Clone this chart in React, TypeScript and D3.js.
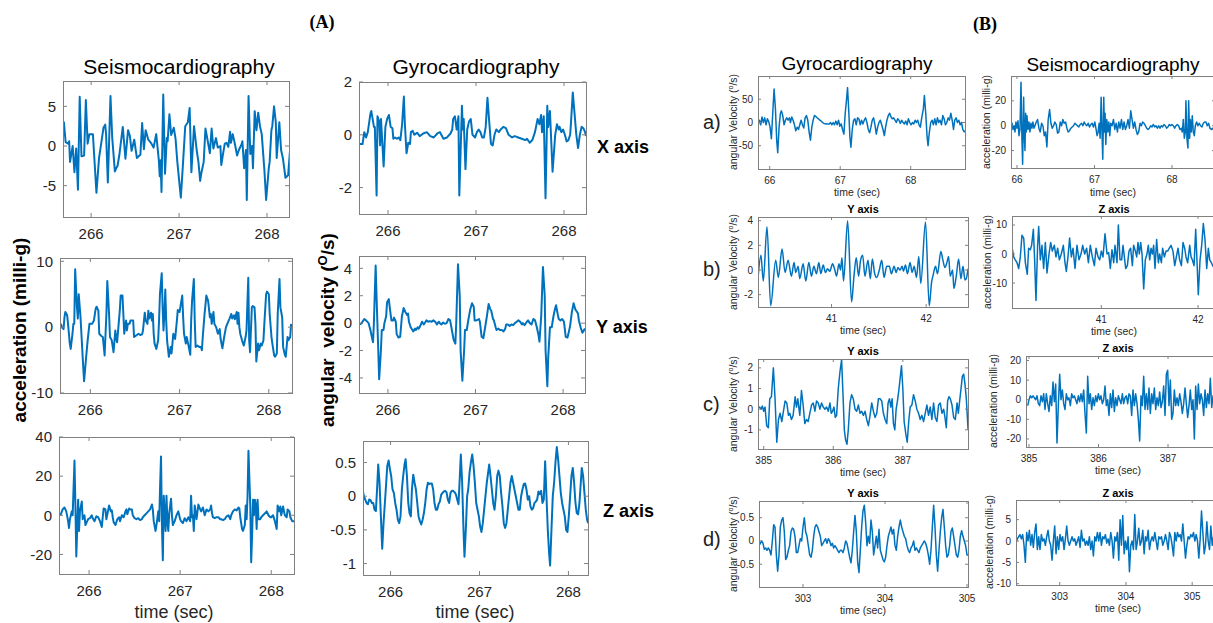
import React from 'react';
import * as d3 from 'd3';

type P = [number, number];

// ---------------- Panel (A) data ----------------
const ticksA = [266, 267, 268];

const scgX_A: P[] = [[265.67,1.5],[265.69,3],[265.71,0.5],[265.74,0.3],[265.75,0.6],[265.76,-2],[265.79,0],[265.81,-3.3],[265.83,-0.3],[265.85,-5.5],[265.87,6.2],[265.89,-1.3],[265.92,-1.2],[265.94,5.8],[265.96,0.3],[265.98,1.5],[266.02,1.5],[266.06,-5.9],[266.09,-1.5],[266.11,0],[266.14,2.3],[266.16,2.7],[266.17,1.5],[266.19,-4.6],[266.22,6.3],[266.24,1.0],[266.27,-3.2],[266.29,-2.7],[266.30,-2.5],[266.32,-1.2],[266.36,2.4],[266.39,-1.6],[266.42,2],[266.44,1.3],[266.46,-0.6],[266.49,0.8],[266.52,-1.5],[266.54,-1.3],[266.56,-1.1],[266.58,2.9],[266.60,-0.4],[266.62,2.0],[266.65,0.8],[266.68,0.4],[266.71,-0.2],[266.74,1.5],[266.77,-1.8],[266.78,-3.8],[266.79,-1.8],[266.80,-5.8],[266.82,6.5],[266.84,-3.5],[266.86,1.0],[266.87,0.6],[266.89,4.0],[266.91,1.4],[266.94,2.3],[266.96,0.9],[266.98,-2],[267.02,-6.5],[267.04,-3],[267.07,2.5],[267.10,3],[267.12,4.8],[267.14,-3.3],[267.17,2.5],[267.20,-0.5],[267.22,-2],[267.24,-4.4],[267.25,-3.6],[267.28,-2],[267.30,2.2],[267.32,1],[267.35,-0.9],[267.37,2.2],[267.39,-0.3],[267.42,1.0],[267.44,-0.2],[267.47,0],[267.48,-2.4],[267.50,-1],[267.52,0.3],[267.54,0.4],[267.56,-0.1],[267.58,1.8],[267.59,0.4],[267.61,1.5],[267.63,0.5],[267.66,-1.2],[267.68,-0.5],[267.71,0.2],[267.72,0.6],[267.74,-2.8],[267.76,-0.5],[267.77,-6.8],[267.79,6.3],[267.81,-1],[267.83,0],[267.84,-2.8],[267.86,4.4],[267.88,2],[267.90,4.2],[267.92,2.5],[267.94,1.5],[267.97,-3],[267.99,-6.8],[268.02,-2.8],[268.03,-2],[268.05,2],[268.06,2.5],[268.08,5],[268.10,3],[268.11,-1.5],[268.14,3],[268.16,-0.5],[268.18,-1.5],[268.21,-4],[268.24,-3.7],[268.26,-0.8]];

const gyroX_A: P[] = [[265.675,-0.35],[265.71,-0.35],[265.73,0.1],[265.75,-0.1],[265.77,0.1],[265.80,0.8],[265.81,0.9],[265.84,0.3],[265.85,0.3],[265.87,-2.3],[265.88,0.7],[265.90,0.5],[265.91,-0.4],[265.92,0.6],[265.95,-1.2],[265.97,0.3],[265.99,0.6],[266.01,0.75],[266.03,0.3],[266.05,0.25],[266.06,-0.15],[266.08,-0.1],[266.10,-0.15],[266.12,-0.1],[266.14,-0.2],[266.16,0.4],[266.18,1.45],[266.19,0.5],[266.21,-0.7],[266.23,-0.3],[266.25,-0.35],[266.26,0.1],[266.28,0.15],[266.30,0],[266.33,0.08],[266.36,-0.05],[266.40,0.05],[266.44,0.1],[266.48,-0.05],[266.52,-0.1],[266.56,0.05],[266.59,0.1],[266.63,-0.15],[266.67,-0.1],[266.71,0.05],[266.73,0.2],[266.74,0.6],[266.76,0.7],[266.78,0.2],[266.80,0.7],[266.81,-2.3],[266.84,1.1],[266.85,0.2],[266.86,0.6],[266.88,-1.3],[266.90,0.2],[266.92,0.5],[266.94,0.6],[266.96,0],[266.99,-0.1],[267.01,0.1],[267.03,0.2],[267.05,0.1],[267.07,-0.1],[267.09,-0.1],[267.11,0.3],[267.13,1.4],[267.15,0.5],[267.17,-0.35],[267.19,-0.4],[267.21,0],[267.23,0.2],[267.26,0.1],[267.28,0.2],[267.31,0.3],[267.34,0.25],[267.37,0],[267.41,-0.1],[267.44,-0.05],[267.48,-0.1],[267.52,-0.15],[267.56,-0.2],[267.58,-0.15],[267.61,-0.3],[267.64,-0.2],[267.67,0.1],[267.70,0.6],[267.72,0.4],[267.74,0.75],[267.75,0.1],[267.77,0.7],[267.79,-2.4],[267.81,1.1],[267.82,0.3],[267.84,0.9],[267.87,-1.4],[267.90,0],[267.92,0.4],[267.94,0.2],[267.95,0.3],[267.97,0.1],[267.99,0.2],[268.01,0],[268.03,-0.25],[268.05,-0.2],[268.07,0],[268.08,0.5],[268.10,1.6],[268.12,0.8],[268.14,0],[268.16,-0.5],[268.18,0],[268.20,0.3],[268.22,0.25],[268.24,0.1],[268.25,-0.05]];

const scgY_A: P[] = [[265.67,0.5],[265.68,0],[265.70,-0.3],[265.71,1.5],[265.72,2.3],[265.74,1.8],[265.75,0.5],[265.77,-2.5],[265.78,-3.3],[265.80,-1],[265.81,0.5],[265.82,0.5],[265.83,8.8],[265.85,3],[265.86,1.3],[265.87,5],[265.89,1.5],[265.90,-1],[265.92,-6],[265.93,-8.2],[265.95,-5],[265.97,-2],[265.99,0.5],[266.02,0.5],[266.04,1],[266.06,2.8],[266.07,3.1],[266.09,2.5],[266.10,-1],[266.12,-1.3],[266.14,-1.5],[266.16,-4.3],[266.18,2],[266.19,7],[266.21,2],[266.22,-1.5],[266.24,-2],[266.26,-3.8],[266.28,-0.5],[266.29,-1.8],[266.30,-2.3],[266.33,2.5],[266.34,4.8],[266.36,4.8],[266.37,2],[266.38,-1],[266.40,1],[266.41,-0.5],[266.42,0.5],[266.44,0.5],[266.45,1],[266.48,1],[266.49,-1.5],[266.51,-1.3],[266.54,-1],[266.56,-1.2],[266.58,-1.1],[266.59,-0.5],[266.61,2.2],[266.62,1],[266.64,0.5],[266.65,2.5],[266.66,1.3],[266.68,2.2],[266.69,1],[266.70,2],[266.71,-1],[266.72,-2.5],[266.74,-3.3],[266.76,-2],[266.77,1],[266.78,5],[266.80,8.2],[266.81,3],[266.82,-0.5],[266.83,2],[266.84,5.7],[266.85,1],[266.86,-2],[266.88,-4.5],[266.90,-3],[266.91,-4],[266.92,-2.5],[266.93,-1],[266.95,-1.8],[266.97,1],[266.98,2.6],[267.00,2.3],[267.03,4.8],[267.04,1.5],[267.05,-1],[267.07,-2.5],[267.08,-1.5],[267.10,-2.8],[267.12,-4.2],[267.13,1],[267.14,4],[267.16,7.3],[267.17,1],[267.18,-3],[267.20,-2.8],[267.22,-3],[267.24,-3],[267.25,-3.5],[267.26,-1.5],[267.28,2],[267.30,4.8],[267.32,4],[267.34,1.5],[267.35,2],[267.36,0.5],[267.38,2.3],[267.39,0.5],[267.41,0],[267.42,-0.5],[267.43,-1],[267.45,-0.3],[267.46,-1.8],[267.48,-3.2],[267.50,-1.5],[267.52,0],[267.55,1],[267.56,1.3],[267.58,2],[267.59,1.3],[267.61,1.8],[267.62,1.2],[267.64,2.3],[267.65,0.5],[267.66,2.2],[267.67,0],[267.68,-1],[267.70,-2],[267.72,-2.8],[267.74,-1.5],[267.75,-0.5],[267.77,7.5],[267.78,-2],[267.79,-3.8],[267.81,3],[267.82,3.2],[267.84,3],[267.85,0.5],[267.86,-5.2],[267.88,-2.5],[267.89,-3.5],[267.91,-2.5],[267.92,-2.8],[267.94,-2],[267.95,0.5],[267.97,5],[267.98,5.4],[268.00,5],[268.01,2],[268.03,-1.5],[268.04,-2.5],[268.06,-4.3],[268.07,-4.5],[268.09,-4],[268.10,2],[268.12,7.3],[268.13,3],[268.15,1.5],[268.16,-3],[268.18,-4.2],[268.19,-4.5],[268.21,-1.5],[268.22,-2],[268.24,-1.5],[268.25,0.5]];

const gyroY_A: P[] = [[265.68,-0.1],[265.70,0],[265.73,0.3],[265.75,0.2],[265.78,0],[265.80,-0.5],[265.83,-1.4],[265.84,0],[265.86,4.2],[265.87,2],[265.89,-2],[265.90,-4.1],[265.92,-2],[265.93,-0.5],[265.95,-0.5],[265.96,0],[265.98,0.5],[265.99,1.5],[266.01,1.75],[266.02,1.2],[266.04,0.2],[266.06,0.2],[266.07,0.4],[266.09,0.1],[266.10,-0.8],[266.12,-1.05],[266.14,-1.0],[266.16,0.5],[266.18,1.1],[266.20,0.8],[266.22,0.6],[266.23,0.7],[266.24,0.1],[266.26,-0.3],[266.28,-0.5],[266.29,-0.6],[266.31,-0.4],[266.32,-0.5],[266.34,-0.3],[266.35,-0.4],[266.37,-0.2],[266.39,0.1],[266.41,-0.1],[266.43,0.1],[266.44,0.2],[266.46,0.1],[266.48,0.15],[266.50,0.1],[266.52,0.2],[266.54,0.1],[266.56,-0.1],[266.58,0.1],[266.60,-0.05],[266.61,-0.1],[266.63,0.05],[266.65,-0.05],[266.67,0],[266.69,0.3],[266.71,0.2],[266.73,-0.5],[266.75,-1.2],[266.77,-1.5],[266.78,0],[266.80,4.3],[266.82,2],[266.83,-2],[266.85,-4.2],[266.87,-2],[266.88,-0.5],[266.90,-0.5],[266.92,0.3],[266.94,1],[266.96,1.45],[266.98,1.2],[266.99,0.2],[267.01,0.2],[267.04,0.3],[267.05,0.1],[267.07,-1],[267.09,-1.1],[267.11,-0.3],[267.13,0.5],[267.15,1.4],[267.17,1],[267.18,0.9],[267.20,0.3],[267.21,0.2],[267.23,-0.3],[267.24,-0.5],[267.26,-0.4],[267.28,-0.5],[267.30,-0.5],[267.32,-0.6],[267.34,-0.4],[267.35,-0.1],[267.37,-0.1],[267.39,-0.2],[267.41,-0.1],[267.43,-0.15],[267.45,0],[267.47,0.1],[267.49,0.2],[267.51,0.1],[267.53,-0.1],[267.54,0],[267.56,-0.15],[267.58,0.05],[267.60,0.2],[267.62,0],[267.64,-0.1],[267.66,0.3],[267.68,0.2],[267.70,-0.3],[267.72,-0.9],[267.73,-1.35],[267.75,0.5],[267.77,4.1],[267.79,2],[267.80,-2],[267.82,-4.6],[267.83,-2.5],[267.85,-0.3],[267.87,-0.3],[267.89,0.5],[267.91,1.1],[267.92,1.3],[267.94,0.6],[267.95,0.3],[267.97,0.2],[267.99,0.3],[268.01,0.1],[268.03,-1],[268.05,-1.05],[268.06,-0.8],[268.08,-0.2],[268.10,0.8],[268.12,1.45],[268.14,1.0],[268.15,0.9],[268.17,0.7],[268.18,0.2],[268.20,-0.3],[268.22,-0.7],[268.23,-0.6],[268.25,-0.4]];

const scgZ_A: P[] = [[265.67,0],[265.69,0.5],[265.71,3],[265.73,4],[265.75,2],[265.77,-3],[265.78,-6.5],[265.79,-2],[265.81,2],[265.82,0],[265.84,28],[265.85,5],[265.86,-21],[265.88,8],[265.89,-8],[265.90,2],[265.92,7],[265.93,-2],[265.95,0],[265.96,-5],[265.98,-3],[265.99,-2],[266.01,-1.5],[266.03,0],[266.04,-1.5],[266.06,-3],[266.08,-0.5],[266.10,-1],[266.12,-3],[266.14,-6],[266.15,-1],[266.16,3.5],[266.18,3],[266.19,-2],[266.21,2.5],[266.22,5],[266.24,2],[266.25,2.5],[266.26,-1],[266.27,-3.5],[266.29,-5],[266.31,-2],[266.33,-1],[266.34,-3],[266.36,0],[266.38,-1],[266.40,2],[266.41,3],[266.42,0.5],[266.44,3.5],[266.45,3],[266.47,3],[266.48,0],[266.50,-1.5],[266.52,-2],[266.54,-1.5],[266.56,-2.5],[266.58,-2],[266.59,-1],[266.61,0],[266.63,1],[266.65,2],[266.67,3],[266.69,5.5],[266.70,3],[266.71,-3],[266.73,-8],[266.74,-5],[266.76,2],[266.77,-3],[266.78,15],[266.79,30],[266.80,-5],[266.81,-23],[266.82,10],[266.84,-8],[266.85,10],[266.86,-3],[266.87,-8],[266.88,1],[266.90,8.5],[266.91,0],[266.92,-5],[266.94,-3],[266.96,0],[266.98,2],[267.00,-2],[267.01,-3],[267.03,-4],[267.05,-1.5],[267.07,-3],[267.09,-1],[267.11,-3],[267.12,10],[267.13,-1],[267.14,0],[267.15,-8],[267.16,5],[267.18,-2],[267.20,5.5],[267.22,3],[267.23,2],[267.25,4],[267.27,0],[267.29,3],[267.31,2],[267.33,3],[267.34,5],[267.35,1],[267.36,-1],[267.38,-1.5],[267.40,-1],[267.42,-1],[267.44,-2],[267.45,-2],[267.47,-2.5],[267.49,-2],[267.51,-0.5],[267.53,0],[267.55,-2],[267.56,0],[267.58,2],[267.60,3],[267.62,2.5],[267.64,4],[267.65,3.5],[267.66,-1],[267.68,-7],[267.69,-8],[267.71,-5],[267.72,5],[267.73,-2],[267.74,10],[267.75,33],[267.77,5],[267.78,-24],[267.79,-10],[267.80,8],[267.81,0],[267.82,8],[267.83,5],[267.84,-7],[267.85,8],[267.86,-2],[267.88,-2],[267.89,-1],[267.91,0],[267.93,1],[267.95,2],[267.97,0],[267.99,-1],[268.00,-1],[268.02,0],[268.04,-3],[268.06,-7],[268.07,5],[268.09,2],[268.10,4.5],[268.11,0],[268.13,4.5],[268.14,2],[268.15,0],[268.17,-1],[268.18,3],[268.20,2],[268.21,-1],[268.23,-3],[268.25,-3]];

const gyroZ_A: P[] = [[265.685,0.1],[265.700,0],[265.715,-0.05],[265.730,-0.1],[265.745,-0.12],[265.760,-0.05],[265.775,-0.06],[265.790,-0.1],[265.805,-0.1],[265.820,-0.2],[265.835,-0.22],[265.850,0.15],[265.861,0.47],[265.876,0.2],[265.891,-0.3],[265.906,-0.78],[265.921,-0.4],[265.936,-0.1],[265.951,0.2],[265.963,0.45],[265.978,0.53],[265.993,0.4],[266.007,0.3],[266.022,0.1],[266.037,0.05],[266.052,-0.1],[266.067,-0.2],[266.082,-0.35],[266.097,-0.4],[266.112,-0.3],[266.127,0.1],[266.142,0.3],[266.157,0.47],[266.169,0.55],[266.184,0.3],[266.199,-0.1],[266.213,-0.25],[266.228,-0.3],[266.240,0.1],[266.255,0.32],[266.270,0.2],[266.285,0.1],[266.300,-0.1],[266.315,-0.3],[266.330,-0.37],[266.345,-0.42],[266.360,-0.35],[266.375,-0.25],[266.390,-0.1],[266.405,0.1],[266.420,0.2],[266.434,0.18],[266.449,0.19],[266.464,0.19],[266.479,0.1],[266.494,-0.1],[266.509,-0.2],[266.524,-0.2],[266.539,-0.12],[266.554,-0.08],[266.569,0.02],[266.584,0.05],[266.599,0.07],[266.614,0.08],[266.629,0.06],[266.644,-0.05],[266.659,-0.1],[266.674,0.05],[266.689,0.08],[266.704,0.08],[266.719,0.06],[266.734,0.03],[266.749,-0.05],[266.764,-0.12],[266.779,0.3],[266.790,0.62],[266.805,0.2],[266.820,-0.5],[266.831,-0.9],[266.846,-0.5],[266.861,0],[266.873,0.1],[266.888,0.35],[266.903,0.5],[266.918,0.62],[266.933,0.45],[266.948,0.2],[266.963,-0.1],[266.978,-0.2],[266.993,-0.3],[267.007,-0.45],[267.022,-0.53],[267.037,-0.4],[267.052,-0.2],[267.067,0],[267.082,0.2],[267.097,0.35],[267.109,0.47],[267.124,0.3],[267.139,0.1],[267.154,-0.1],[267.169,-0.2],[267.184,0],[267.199,0.3],[267.213,0.38],[267.228,0.3],[267.243,0.05],[267.258,-0.15],[267.273,-0.4],[267.288,-0.47],[267.303,-0.4],[267.318,-0.2],[267.333,0],[267.348,0.2],[267.363,0.3],[267.378,0.2],[267.393,0.1],[267.408,0],[267.423,-0.1],[267.438,-0.2],[267.453,-0.2],[267.468,0],[267.483,0.1],[267.498,0.18],[267.513,0.19],[267.528,0.1],[267.543,-0.05],[267.558,0],[267.573,-0.15],[267.588,-0.2],[267.603,-0.18],[267.618,-0.1],[267.633,-0.08],[267.648,-0.05],[267.663,0.07],[267.678,0.03],[267.693,0.08],[267.708,-0.1],[267.723,-0.05],[267.738,0.52],[267.753,0],[267.768,-0.5],[267.783,-0.85],[267.794,-1.03],[267.809,-0.5],[267.824,0],[267.839,0.2],[267.854,0.5],[267.869,0.73],[267.884,0.55],[267.899,0.3],[267.914,0.05],[267.929,-0.1],[267.944,-0.2],[267.959,-0.3],[267.974,-0.5],[267.989,-0.53],[268.004,-0.3],[268.019,0],[268.034,0.3],[268.049,0.42],[268.064,0.2],[268.079,-0.1],[268.094,-0.25],[268.109,-0.27],[268.124,-0.1],[268.139,0.2],[268.150,0.42],[268.165,0.3],[268.180,0.05],[268.195,-0.2],[268.210,-0.35],[268.221,-0.4]];

// ---------------- Panel (B) data ----------------
const gyro_Ba: P[] = [[65.834,-5],[65.853,5],[65.872,-5],[65.891,12],[65.910,0],[65.929,10],[65.948,-5],[65.967,8],[65.986,2],[66.005,-10],[66.024,-35],[66.043,20],[66.062,72],[66.081,30],[66.100,-40],[66.114,-65],[66.133,-10],[66.152,20],[66.166,25],[66.185,15],[66.204,-5],[66.223,5],[66.242,10],[66.261,5],[66.280,10],[66.294,0],[66.313,12],[66.332,5],[66.351,-5],[66.370,-18],[66.389,-10],[66.408,-15],[66.427,-5],[66.445,5],[66.464,-5],[66.483,-12],[66.502,10],[66.521,15],[66.540,5],[66.559,-20],[66.578,-38],[66.597,-10],[66.616,5],[66.635,15],[66.654,13],[66.673,10],[66.692,8],[66.711,5],[66.730,3],[66.749,0],[66.768,-2],[66.806,-3],[66.844,-3],[66.863,0],[66.881,-5],[66.900,0],[66.919,-5],[66.938,3],[66.957,-5],[66.976,5],[66.995,-8],[67.014,-3],[67.033,-15],[67.052,-25],[67.071,20],[67.090,50],[67.104,75],[67.123,20],[67.137,-30],[67.152,-53],[67.171,-15],[67.190,5],[67.209,8],[67.227,-5],[67.246,10],[67.265,8],[67.284,-5],[67.303,5],[67.322,-3],[67.341,5],[67.360,10],[67.379,0],[67.398,-15],[67.417,-22],[67.436,-10],[67.455,5],[67.474,10],[67.493,-5],[67.512,-25],[67.531,-10],[67.550,0],[67.569,5],[67.588,-5],[67.607,-15],[67.626,-28],[67.644,-10],[67.663,5],[67.682,15],[67.701,20],[67.720,12],[67.739,8],[67.758,10],[67.777,5],[67.796,0],[67.815,8],[67.834,5],[67.853,-2],[67.872,5],[67.891,0],[67.910,-3],[67.929,3],[67.948,-5],[67.967,8],[67.986,0],[68.005,-5],[68.024,0],[68.043,-3],[68.062,5],[68.080,0],[68.099,5],[68.118,-5],[68.137,-10],[68.156,10],[68.180,30],[68.194,58],[68.213,20],[68.232,-30],[68.246,-50],[68.265,-20],[68.284,0],[68.303,5],[68.322,-5],[68.341,8],[68.360,-5],[68.379,10],[68.398,0],[68.417,5],[68.436,-5],[68.455,15],[68.474,8],[68.493,-5],[68.512,0],[68.531,10],[68.550,5],[68.569,20],[68.588,5],[68.607,-15],[68.625,5],[68.644,10],[68.663,0],[68.682,5],[68.701,-5],[68.720,0],[68.739,-15],[68.758,-20],[68.772,-18]];

const scg_Ba: P[] = [[65.923,0],[65.936,2],[65.949,-3],[65.962,0],[65.974,-5],[65.987,3],[66.000,-2],[66.013,4],[66.026,-8],[66.039,-3],[66.052,35],[66.064,-10],[66.073,-31],[66.086,23],[66.094,-5],[66.103,-20],[66.112,10],[66.120,-5],[66.129,8],[66.142,-3],[66.155,3],[66.167,-5],[66.180,2],[66.193,-2],[66.206,3],[66.219,-2],[66.232,0],[66.249,3],[66.266,5],[66.283,-2],[66.300,-5],[66.318,2],[66.335,0],[66.352,-8],[66.369,-5],[66.386,-17],[66.403,5],[66.421,13],[66.438,2],[66.455,-2],[66.472,0],[66.489,3],[66.506,1],[66.524,-6],[66.541,-5],[66.558,3],[66.575,0],[66.592,5],[66.609,2],[66.627,3],[66.644,-2],[66.661,-5],[66.678,-4],[66.695,-2],[66.712,-1],[66.730,0],[66.747,2],[66.764,1],[66.781,0],[66.798,-1],[66.815,1],[66.833,2],[66.850,0],[66.867,3],[66.884,1],[66.901,0],[66.918,2],[66.936,-1],[66.953,1],[66.970,2],[66.987,-1],[67.004,3],[67.021,-3],[67.034,-8],[67.047,-5],[67.060,2],[67.073,-10],[67.086,23],[67.099,-10],[67.107,-27],[67.120,23],[67.129,-5],[67.137,10],[67.146,-15],[67.159,5],[67.172,-5],[67.185,3],[67.197,-8],[67.210,2],[67.227,0],[67.245,5],[67.262,-3],[67.279,2],[67.296,-5],[67.313,3],[67.330,-2],[67.348,5],[67.365,-3],[67.382,3],[67.399,-3],[67.416,0],[67.433,5],[67.451,-2],[67.468,12],[67.485,5],[67.502,-2],[67.519,3],[67.536,-3],[67.554,-7],[67.571,-5],[67.588,2],[67.605,0],[67.622,3],[67.639,2],[67.657,0],[67.674,-2],[67.691,-3],[67.708,-2],[67.725,0],[67.742,-1],[67.760,1],[67.777,-1],[67.794,0],[67.811,-2],[67.828,0],[67.845,-2],[67.863,0],[67.880,-1],[67.897,1],[67.914,0],[67.931,-2],[67.948,-1],[67.966,1],[67.983,0],[68.000,1],[68.017,0],[68.034,-2],[68.052,0],[68.069,1],[68.086,0],[68.103,-3],[68.120,-2],[68.133,-5],[68.146,5],[68.159,-10],[68.172,-5],[68.180,20],[68.193,-10],[68.206,-18],[68.215,20],[68.228,-10],[68.236,5],[68.249,-5],[68.262,8],[68.275,-5],[68.288,-8],[68.301,0],[68.318,3],[68.335,0],[68.352,2],[68.369,0],[68.387,-1],[68.404,2],[68.421,3],[68.438,3],[68.455,0],[68.472,2],[68.490,-2],[68.507,-3],[68.524,-2],[68.54,-4]];

const gyro_Bb: P[] = [[40.223,-0.7],[40.254,1.2],[40.279,-0.9],[40.318,3.5],[40.357,-2.9],[40.410,0.8],[40.438,-0.6],[40.477,1.7],[40.509,-0.2],[40.541,0.8],[40.576,-0.5],[40.604,0.6],[40.622,-0.2],[40.647,0.3],[40.664,-0.7],[40.700,0.5],[40.728,-0.9],[40.760,0.6],[40.788,-0.5],[40.813,0.3],[40.841,-0.3],[40.866,0.6],[40.887,-0.3],[40.912,0.4],[40.936,-0.2],[40.958,0.1],[40.982,-0.1],[41.011,0.5],[41.035,0],[41.053,-0.5],[41.078,0.5],[41.095,0],[41.110,1.0],[41.127,-0.9],[41.170,4.0],[41.212,-2.6],[41.237,-0.5],[41.261,1.0],[41.286,-0.5],[41.307,0.8],[41.329,1.2],[41.353,-0.5],[41.385,0.8],[41.410,-0.7],[41.431,0.9],[41.456,-0.3],[41.477,-0.6],[41.505,0],[41.530,0.8],[41.555,-0.6],[41.583,0.3],[41.611,0.3],[41.633,-0.3],[41.661,0.3],[41.682,-0.2],[41.703,0.2],[41.724,0],[41.746,0.3],[41.760,-0.1],[41.781,0.4],[41.802,-0.3],[41.830,0.6],[41.852,-0.2],[41.873,0.3],[41.898,-0.6],[41.922,1.1],[41.943,-1.1],[41.993,3.9],[42.032,-2.9],[42.057,-1],[42.074,-0.4],[42.099,0.3],[42.120,-0.3],[42.155,1.5],[42.177,0.8],[42.198,0.2],[42.219,0.6],[42.237,1.1],[42.254,-0.5],[42.279,0],[42.293,-1.5],[42.318,-0.5],[42.343,0.9],[42.367,-0.7],[42.389,0.3],[42.410,-0.8],[42.424,-0.7],[42.442,0.1]];

const scg_Bb: P[] = [[40.076,2.5],[40.093,-1],[40.110,-2],[40.128,-3],[40.145,-5],[40.162,-1],[40.179,6.5],[40.197,5.5],[40.214,-3],[40.234,-7],[40.248,2],[40.266,1.5],[40.279,3],[40.297,8.5],[40.310,-2],[40.324,-16],[40.341,3],[40.352,9.5],[40.369,-2],[40.386,3],[40.403,-5],[40.421,4],[40.438,-6.5],[40.459,0],[40.476,4],[40.493,1],[40.514,3],[40.531,-1],[40.548,2],[40.566,-2],[40.586,0],[40.607,3],[40.624,-3],[40.638,-6],[40.655,-1],[40.672,5.5],[40.690,-1],[40.707,2],[40.728,-5],[40.748,3],[40.769,-2],[40.790,0],[40.807,3],[40.828,0],[40.848,2],[40.866,-3],[40.886,3],[40.907,-1],[40.928,-4],[40.945,2],[40.966,-1],[40.983,-2],[41.000,1],[41.017,-1],[41.038,7],[41.059,0],[41.076,0.5],[41.093,-5],[41.110,1.5],[41.128,-3],[41.141,3],[41.162,-3],[41.176,10],[41.193,-2],[41.210,-2],[41.224,3],[41.238,-1],[41.252,-5],[41.269,-4],[41.286,1],[41.303,2],[41.321,-4],[41.334,3],[41.352,1],[41.366,-1],[41.379,4],[41.393,0],[41.407,4],[41.421,0],[41.438,-12],[41.455,-2],[41.472,0],[41.486,3],[41.500,-2],[41.514,2],[41.528,0],[41.541,3],[41.555,-5],[41.572,5],[41.590,-3],[41.603,0],[41.621,-3],[41.634,2],[41.652,-1],[41.669,1],[41.686,1],[41.703,2],[41.721,3],[41.741,1],[41.759,-4],[41.776,-1],[41.793,2],[41.810,-2],[41.828,-4],[41.845,4],[41.862,2],[41.876,-1],[41.893,-3],[41.914,3],[41.928,-1],[41.941,-2],[41.959,-4],[41.976,8.5],[41.990,-3],[42.003,-14],[42.021,-2],[42.038,3],[42.055,10.5],[42.072,5],[42.090,-5],[42.107,2],[42.121,-2],[42.138,-3],[42.152,-4],[42.17,-5]];

const gyro_Bc: P[] = [[384.918,0.05],[384.942,0.1],[384.962,0],[384.981,0.15],[385.000,-0.1],[385.019,0.1],[385.043,-0.8],[385.067,-0.9],[385.087,0.5],[385.111,0.6],[385.139,2.0],[385.163,0.5],[385.188,-1.6],[385.212,-0.5],[385.236,-0.2],[385.260,-0.6],[385.284,-0.1],[385.308,0.4],[385.332,0.3],[385.356,-0.3],[385.375,-0.2],[385.399,-0.5],[385.423,-0.3],[385.452,0.6],[385.471,0.1],[385.490,0.5],[385.519,-0.3],[385.543,0.9],[385.567,0.2],[385.591,-0.7],[385.615,-0.5],[385.639,-0.6],[385.663,-0.2],[385.688,0.2],[385.712,0.3],[385.736,-0.1],[385.760,0.4],[385.784,0.3],[385.808,0],[385.832,0.3],[385.856,0.1],[385.880,0],[385.904,0.1],[385.928,-0.1],[385.952,0.3],[385.971,-0.2],[385.990,-0.1],[386.010,0.1],[386.029,-0.4],[386.048,-0.3],[386.072,1.0],[386.096,1.8],[386.120,2.4],[386.139,0.8],[386.159,-1],[386.178,-1.5],[386.197,-1.7],[386.216,-1.0],[386.240,0.3],[386.264,0.7],[386.288,0.5],[386.313,0],[386.337,-0.1],[386.361,0.2],[386.385,-0.2],[386.409,-0.1],[386.433,-0.3],[386.457,-0.1],[386.481,-0.5],[386.505,-0.8],[386.529,-0.3],[386.553,0.3],[386.577,-0.1],[386.601,-0.4],[386.625,-0.2],[386.649,0.5],[386.673,0.5],[386.697,0.4],[386.721,-0.2],[386.745,-0.5],[386.769,-0.7],[386.788,0.3],[386.808,0.5],[386.827,0.1],[386.846,0.5],[386.865,-0.7],[386.885,-1.0],[386.904,0],[386.923,0.4],[386.942,0.9],[386.962,1.5],[386.981,2.1],[387.000,1.0],[387.019,-0.6],[387.043,-1.2],[387.063,-1.6],[387.087,-0.5],[387.106,0.1],[387.130,0.2],[387.154,0.7],[387.178,0.4],[387.202,0],[387.226,-0.2],[387.250,-0.5],[387.274,-0.3],[387.298,-0.6],[387.322,-0.2],[387.346,0.2],[387.370,-0.3],[387.394,0.1],[387.418,-0.5],[387.442,0.3],[387.466,-0.4],[387.490,-0.6],[387.514,0.2],[387.538,0.3],[387.563,-0.2],[387.587,0],[387.606,-0.4],[387.625,-0.9],[387.644,0.4],[387.663,0.6],[387.683,0.5],[387.707,0.2],[387.731,-0.4],[387.755,-0.5],[387.779,0.3],[387.798,-0.2],[387.817,0.4],[387.837,1.0],[387.856,1.6],[387.875,1.7],[387.894,1.2],[387.913,0.5],[387.938,-1.0]];

// uniformly sampled records (start time, sample step, values)
const scg_Bc_t0 = 384.981;
const scg_Bc_dt = 0.01918;
const scg_Bc_vals = [-3,0,2,1,2,1,0,2,-2,-3,2,-1,3,-5,3,-2,-6,2,-3,9,-1,8,-22,-3,13,0,5,-2,-5,3,0,1,-3,3,1,2,0,-2,2,-1,3,-1,5,-7,-17,12,-2,3,-5,1,-3,2,-1,3,0,2,-2,0,7,-3,0,-8,3,-4,5,-6,1,-3,2,0,-2,3,-2,1,2,-2,3,2,-8,5,-3,3,-2,-10,-21,2,-3,12,-5,3,-5,6,-7,3,-2,6,-5,1,-3,4,-4,-1,7,-8,13,15,-3,10,-10,-7,5,-3,1,-3,3,-1,-7,-2,6,-2,-9,-3,5,-5,0,-20,7,-5,8,-2,3,0,-8,5,-4,3,-2,11,-4,2,0];

const gyro_Bd_t0 = 302.463;
const gyro_Bd_dt = 0.01626;
const gyro_Bd_vals = [-0.1,-0.05,0,-0.05,-0.18,-0.15,-0.2,-0.15,-0.2,-0.3,0,0.35,0.3,-0.3,-0.65,-0.3,0.3,0.45,0.5,0.2,-0.4,-0.35,-0.2,-0.1,0.2,0.28,0.25,0.1,-0.25,-0.25,-0.1,0.05,0,0.3,0.5,0.2,0.1,-0.1,-0.3,-0.35,-0.2,0.1,0.3,0.35,0.3,0.2,0.1,-0.1,-0.05,0,0.05,-0.05,0.05,0,-0.1,-0.05,-0.15,-0.1,-0.15,-0.2,-0.25,-0.2,-0.2,-0.25,-0.15,0,-0.05,-0.2,-0.35,-0.47,-0.2,0.2,0.55,0.2,-0.45,-0.68,-0.2,0.3,0.65,0.77,0.4,-0.1,0.1,-0.05,0.45,0.2,-0.3,-0.1,0.1,-0.15,0.25,-0.2,-0.3,-0.4,-0.45,-0.35,-0.1,0.1,0.2,0.3,0.15,0.25,-0.1,-0.2,0.1,0.3,0.45,0.3,0.2,0.1,0.05,-0.1,-0.2,-0.25,-0.15,-0.1,0,-0.2,-0.15,-0.2,-0.25,-0.15,-0.1,-0.05,0,-0.05,-0.15,-0.3,-0.5,-0.2,0.3,0.77,0.3,-0.3,-0.65,-0.2,0.2,0.5,0.68,0.3,-0.1,-0.35,-0.3,-0.1,0.2,0.28,0.1,-0.1,-0.3,-0.35,-0.2,0.1,0.22,0.1,0,-0.1,-0.3,-0.3];

const scg_Bd_t0 = 302.34;
const scg_Bd_dt = 0.02015;
const scg_Bd_vals = [-0.5,0.5,1,1.5,0.5,1.5,-1,-5,2,0,2.5,-1,1.5,-1.5,2,4,-2,1,-2,1.5,0,0.5,-1,1,2.5,0,-1,-4.5,0,3.5,-3,1,-2,1.5,0,1,-2,0.5,3.5,0,-1,0,1,0,0.5,-1,0,1,-1.5,2.5,0,0.5,-1,0,-1,1,-2,0,-3.5,1,0,2,0,2,-1,1,0.5,1.5,-0.5,0.5,-1,2,0,-4,1,0,2,-4.5,5,-1,6,-3,0,-2,1,-7.2,-1,0,-2,6.2,-2,0,3,-1,0,2.5,-3,1,0,2.5,-2,0,1,0,2,0,-2,1,0.5,1,-1,0,1.5,0,-2,2,1,-1,-3.5,2,0,2,1,1.5,0,4,0,-4,-1,1,0.5,1.5,1,2,0,1.5,0,-4,0.5,7,2,-3,-1,4.5,0,-2,3.5,-1,1];

const sampled = (t0: number, dt: number, vals: number[]): P[] => vals.map((v, i) => [t0 + i * dt, v]);

// ---------------- layout ----------------
interface Spec {
  key: string; data: P[]; box: [number, number, number, number];
  xd: [number, number]; yd: [number, number]; xt: number[]; yt: number[];
  big: boolean; smooth?: boolean;
}

const specs: Spec[] = [
  { key: 'a1', data: scgX_A, box: [63, 81, 226, 136], xd: [265.68, 268.25], yd: [-8.95, 8.2], xt: ticksA, yt: [-5, 0, 5], big: true },
  { key: 'a2', data: gyroX_A, box: [359, 82, 227, 132], xd: [265.67, 268.25], yd: [-3, 2], xt: ticksA, yt: [-2, 0, 2], big: true },
  { key: 'a3', data: scgY_A, box: [60, 258, 232, 135], xd: [265.66, 268.26], yd: [-10, 10.5], xt: ticksA, yt: [-10, 0, 10], big: true },
  { key: 'a4', data: gyroY_A, box: [359, 256, 226, 137], xd: [265.67, 268.25], yd: [-5.1, 4.9], xt: ticksA, yt: [-4, -2, 0, 2, 4], big: true },
  { key: 'a5', data: scgZ_A, box: [59, 437, 235, 137], xd: [265.67, 268.25], yd: [-30, 40], xt: ticksA, yt: [-20, 0, 20, 40], big: true },
  { key: 'a6', data: gyroZ_A, box: [363, 441, 225, 134], xd: [265.69, 268.22], yd: [-1.17, 0.82], xt: ticksA, yt: [-1, -0.5, 0, 0.5], big: true },
  { key: 'b1', data: gyro_Ba, box: [758, 76, 207, 93], xd: [65.834, 68.77], yd: [-100, 100], xt: [66, 67, 68], yt: [-50, 0, 50], big: false },
  { key: 'b2', data: scg_Ba, box: [1011, 76, 204, 92], xd: [65.923, 68.555], yd: [-34, 40], xt: [66, 67, 68], yt: [-20, 0, 20], big: false },
  { key: 'b3', data: gyro_Bb, box: [758, 217, 210, 90], xd: [40.223, 42.442], yd: [-3, 4.3], xt: [41, 42], yt: [-2, 0, 2, 4], big: false, smooth: true },
  { key: 'b4', data: scg_Bb, box: [1012, 216, 204, 92], xd: [40.076, 42.186], yd: [-18.6, 13.1], xt: [41, 42], yt: [-10, 0, 10], big: false },
  { key: 'b5', data: gyro_Bc, box: [758, 359, 210, 90], xd: [384.918, 387.937], yd: [-1.93, 2.43], xt: [385, 386, 387], yt: [-1, 0, 1, 2], big: false },
  { key: 'b6', data: sampled(scg_Bc_t0, scg_Bc_dt, scg_Bc_vals), box: [1026, 356, 190, 91], xd: [384.957, 387.69], yd: [-24.1, 22.3], xt: [385, 386, 387], yt: [-20, -10, 0, 10, 20], big: false },
  { key: 'b7', data: sampled(gyro_Bd_t0, gyro_Bd_dt, gyro_Bd_vals), box: [759, 501, 209, 86], xd: [302.463, 305.012], yd: [-0.99, 0.86], xt: [303, 304, 305], yt: [-0.5, 0, 0.5], big: false },
  { key: 'b8', data: sampled(scg_Bd_t0, scg_Bd_dt, scg_Bd_vals), box: [1016, 500, 204, 85], xd: [302.34, 305.42], yd: [-10.3, 9.6], xt: [303, 304, 305], yt: [-10, -5, 0, 5], big: false },
];

const SANS = '"Liberation Sans", Arial, Helvetica, sans-serif';
const SERIF = '"Liberation Serif", "Times New Roman", serif';
const BLUE = '#0072BD';
const AXIS = '#808080';
const TXT = '#262626';

function Plot({ s }: { s: Spec }) {
  const [bx, by, bw, bh] = s.box;
  const x = d3.scaleLinear().domain(s.xd).range([bx, bx + bw]);
  const y = d3.scaleLinear().domain(s.yd).range([by + bh, by]);
  const line = d3.line<P>().x(d => x(d[0])).y(d => y(d[1])).curve(s.smooth ? d3.curveMonotoneX : d3.curveLinear);
  const tl = s.big ? 4 : 3;
  const fs = s.big ? 15 : 10;
  return (
    <g>
      <defs>
        <clipPath id={'clip-' + s.key}>
          <rect x={bx} y={by} width={bw} height={bh} />
        </clipPath>
      </defs>
      <path d={line(s.data) || ''} fill="none" stroke={BLUE} strokeWidth={s.big ? 2 : 1.5}
        strokeLinejoin="round" clipPath={`url(#clip-${s.key})`} />
      <rect x={bx + 0.5} y={by + 0.5} width={bw} height={bh} fill="none" stroke={AXIS} strokeWidth={1} />
      {s.xt.map(t => (
        <g key={'x' + t}>
          <line x1={x(t)} x2={x(t)} y1={by + bh} y2={by + bh - tl} stroke={AXIS} />
          <line x1={x(t)} x2={x(t)} y1={by} y2={by + tl} stroke={AXIS} />
          <text x={x(t)} y={by + bh + (s.big ? 22 : 15)} textAnchor="middle" fontSize={fs} fill={TXT} fontFamily={SANS}>{String(t)}</text>
        </g>
      ))}
      {s.yt.map(t => (
        <g key={'y' + t}>
          <line x1={bx} x2={bx + tl} y1={y(t)} y2={y(t)} stroke={AXIS} />
          <line x1={bx + bw} x2={bx + bw - tl} y1={y(t)} y2={y(t)} stroke={AXIS} />
          <text x={bx - (s.big ? 7 : 5)} y={y(t)} dy="0.35em" textAnchor="end" fontSize={fs} fill={TXT} fontFamily={SANS}>{String(t)}</text>
        </g>
      ))}
    </g>
  );
}

function VLabel({ x, y, size, bold, children }: { x: number; y: number; size: number; bold?: boolean; children: React.ReactNode }) {
  return (
    <text transform={`translate(${x},${y}) rotate(-90)`} textAnchor="middle" fontSize={size}
      fontWeight={bold ? 'bold' : 'normal'} fill={bold ? '#000' : TXT} fontFamily={SANS} style={{ whiteSpace: 'pre' }}>
      {children}
    </text>
  );
}

export default function App() {
  return (
    <svg width={1213} height={623} style={{ position: 'absolute', left: 0, top: 0, background: '#fff' }}>
      <rect x={0} y={0} width={1213} height={623} fill="#fff" />
      {specs.map(s => <Plot key={s.key} s={s} />)}

      {/* Panel (A) texts */}
      <text x={322} y={28} textAnchor="middle" fontSize={18} fontWeight="bold" fontFamily={SERIF}>(A)</text>
      <text x={179} y={74} textAnchor="middle" fontSize={21} fill="#000" fontFamily={SANS}>Seismocardiography</text>
      <text x={476} y={74} textAnchor="middle" fontSize={21} fill="#000" fontFamily={SANS}>Gyrocardiography</text>
      <VLabel x={26} y={330} size={19} bold>acceleration (milli-g)</VLabel>
      <text transform="translate(334,330) rotate(-90)" textAnchor="middle" fontSize={19} fontWeight="bold" fontFamily={SANS} style={{ whiteSpace: 'pre' }}>
        {'angular  velocity ('}<tspan dy={-7} fontSize={13}>O</tspan><tspan dy={7}>/s)</tspan>
      </text>
      <text x={597} y={153} fontSize={18} fontWeight="bold" fontFamily={SANS}>X axis</text>
      <text x={596} y={333} fontSize={18} fontWeight="bold" fontFamily={SANS}>Y axis</text>
      <text x={603} y={517} fontSize={18} fontWeight="bold" fontFamily={SANS}>Z axis</text>
      <text x={174} y={618} textAnchor="middle" fontSize={18} fill={TXT} fontFamily={SANS}>time (sec)</text>
      <text x={475} y={618} textAnchor="middle" fontSize={18} fill={TXT} fontFamily={SANS}>time (sec)</text>

      {/* Panel (B) texts */}
      <text x={985} y={30} textAnchor="middle" fontSize={18} fontWeight="bold" fontFamily={SERIF}>(B)</text>
      <text x={857} y={70} textAnchor="middle" fontSize={19} fill="#000" fontFamily={SANS}>Gyrocardiography</text>
      <text x={1113} y={71} textAnchor="middle" fontSize={19} fill="#000" fontFamily={SANS}>Seismocardiography</text>

      <text x={703} y={129} fontSize={20} fill="#222" fontFamily={SANS}>a)</text>
      <text x={703} y={276} fontSize={20} fill="#222" fontFamily={SANS}>b)</text>
      <text x={703} y={411} fontSize={20} fill="#222" fontFamily={SANS}>c)</text>
      <text x={703} y={546} fontSize={20} fill="#222" fontFamily={SANS}>d)</text>

      {[
        { x: 863, y: 213, t: 'Y axis' }, { x: 1114, y: 213, t: 'Z axis' },
        { x: 863, y: 355, t: 'Y axis' }, { x: 1118, y: 352, t: 'Z axis' },
        { x: 863, y: 497, t: 'Y axis' }, { x: 1118, y: 497, t: 'Z axis' },
      ].map((d, i) => (
        <text key={'ti' + i} x={d.x} y={d.y} textAnchor="middle" fontSize={11} fontWeight="bold" fontFamily={SANS}>{d.t}</text>
      ))}

      {[
        { x: 857, y: 196 }, { x: 1113, y: 196 },
        { x: 863, y: 334 }, { x: 1114, y: 335 },
        { x: 863, y: 476 }, { x: 1118, y: 474 },
        { x: 863, y: 614 }, { x: 1118, y: 612 },
      ].map((d, i) => (
        <text key={'tl' + i} x={d.x} y={d.y} textAnchor="middle" fontSize={10.5} fill={TXT} fontFamily={SANS}>time (sec)</text>
      ))}

      {[
        { x: 737, y: 122 }, { x: 737, y: 262 }, { x: 737, y: 404 }, { x: 737, y: 544 },
      ].map((d, i) => (
        <text key={'gl' + i} transform={`translate(${d.x},${d.y}) rotate(-90)`} textAnchor="middle" fontSize={10.5} fill={TXT} fontFamily={SANS}>
          {'angular Velocity ('}<tspan dy={-4} fontSize={7}>o</tspan><tspan dy={4}>/s)</tspan>
        </text>
      ))}
      {[
        { x: 990, y: 122 }, { x: 991, y: 262 }, { x: 997, y: 401 }, { x: 993, y: 542 },
      ].map((d, i) => (
        <text key={'al' + i} transform={`translate(${d.x},${d.y}) rotate(-90)`} textAnchor="middle" fontSize={10.5} fill={TXT} fontFamily={SANS}>
          acceleration (milli-g)
        </text>
      ))}
    </svg>
  );
}
